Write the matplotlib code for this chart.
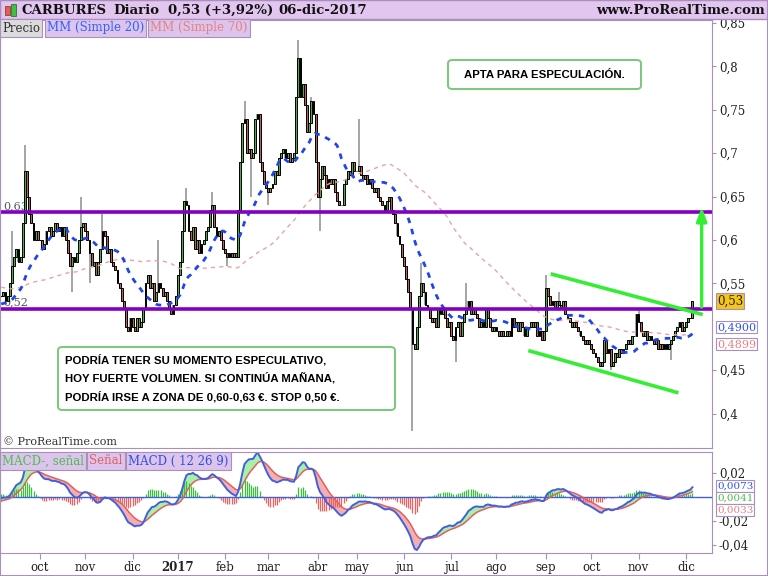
import matplotlib
matplotlib.use('Agg')
import matplotlib.pyplot as plt
from matplotlib.patches import Rectangle, FancyBboxPatch
import numpy as np
import pandas as pd

plt.rcParams['font.family'] = ['DejaVu Serif']

# closes before the visible window, only used to warm up the averages / MACD
hist_closes = [0.57, 0.565, 0.56, 0.57, 0.575, 0.565, 0.56, 0.555, 0.56, 0.565,
               0.57, 0.56, 0.555, 0.55, 0.56, 0.565, 0.56, 0.555, 0.56, 0.57,
               0.565, 0.56, 0.555, 0.55, 0.555, 0.56, 0.565, 0.56, 0.555, 0.55,
               0.545, 0.55, 0.555, 0.56, 0.555, 0.55, 0.545, 0.55, 0.545, 0.54,
               0.545, 0.54, 0.535, 0.54, 0.535, 0.53, 0.535, 0.53, 0.525,
               0.53, 0.525, 0.52, 0.525, 0.53, 0.525, 0.52, 0.515, 0.52, 0.525,
               0.53, 0.525, 0.52, 0.525, 0.53, 0.535, 0.53, 0.525, 0.53, 0.535]

# daily closes, one list per month (Sep-2016 .. Dec-2017)
sep16 = [0.535, 0.54, 0.53, 0.535, 0.55, 0.57, 0.58, 0.59, 0.575, 0.58, 0.62, 0.68, 0.65, 0.63, 0.62, 0.60, 0.61, 0.60]
oct16 = [0.60, 0.59, 0.595, 0.61, 0.615, 0.605, 0.61, 0.62, 0.61, 0.615, 0.605, 0.615, 0.60, 0.585, 0.57, 0.58, 0.575, 0.585, 0.60, 0.615, 0.62]
nov16 = [0.61, 0.60, 0.585, 0.57, 0.575, 0.56, 0.575, 0.59, 0.61, 0.605, 0.585, 0.59, 0.575, 0.57, 0.565, 0.55, 0.545, 0.53, 0.52, 0.50, 0.495, 0.51]
dec16 = [0.50, 0.495, 0.51, 0.50, 0.505, 0.52, 0.55, 0.56, 0.545, 0.55, 0.53, 0.54, 0.55, 0.545, 0.535, 0.54, 0.53, 0.52, 0.515, 0.525, 0.535]
jan17 = [0.56, 0.575, 0.61, 0.645, 0.64, 0.61, 0.60, 0.615, 0.59, 0.60, 0.585, 0.595, 0.60, 0.61, 0.615, 0.635, 0.64, 0.615, 0.605, 0.61, 0.60, 0.59]
feb17 = [0.585, 0.58, 0.585, 0.58, 0.585, 0.58, 0.635, 0.69, 0.735, 0.74, 0.70, 0.705, 0.695, 0.70, 0.74, 0.745, 0.69, 0.68, 0.665, 0.66]
mar17 = [0.655, 0.66, 0.665, 0.68, 0.675, 0.695, 0.70, 0.705, 0.695, 0.70, 0.69, 0.695, 0.70, 0.765, 0.81, 0.765, 0.78, 0.755, 0.725, 0.735, 0.76, 0.745, 0.69]
apr17 = [0.65, 0.67, 0.685, 0.675, 0.66, 0.67, 0.665, 0.67, 0.655, 0.645, 0.64, 0.64, 0.665, 0.67, 0.68, 0.675, 0.69, 0.68]
may17 = [0.68, 0.685, 0.675, 0.67, 0.675, 0.665, 0.67, 0.66, 0.655, 0.66, 0.65, 0.645, 0.64, 0.635, 0.645, 0.65, 0.635, 0.63, 0.62, 0.605, 0.595, 0.58]
jun17 = [0.57, 0.555, 0.54, 0.52, 0.48, 0.475, 0.50, 0.535, 0.55, 0.54, 0.525, 0.52, 0.51, 0.505, 0.51, 0.50, 0.52, 0.515, 0.52, 0.51, 0.50, 0.505]
jul17 = [0.49, 0.485, 0.50, 0.505, 0.49, 0.505, 0.515, 0.52, 0.53, 0.515, 0.52, 0.515, 0.51, 0.50, 0.505, 0.50, 0.52, 0.51, 0.50, 0.495, 0.50]
aug17 = [0.495, 0.49, 0.495, 0.49, 0.49, 0.495, 0.49, 0.51, 0.50, 0.505, 0.495, 0.505, 0.50, 0.49, 0.50, 0.50, 0.505, 0.50, 0.505, 0.49, 0.495, 0.485, 0.495]
sep17 = [0.545, 0.535, 0.525, 0.53, 0.52, 0.53, 0.525, 0.52, 0.53, 0.515, 0.51, 0.505, 0.50, 0.505, 0.50, 0.495, 0.49, 0.485, 0.48, 0.485, 0.48]
oct17 = [0.475, 0.47, 0.465, 0.46, 0.455, 0.46, 0.485, 0.47, 0.475, 0.455, 0.46, 0.47, 0.465, 0.475, 0.47, 0.475, 0.48, 0.485, 0.48, 0.49, 0.49, 0.515]
nov17 = [0.505, 0.495, 0.49, 0.495, 0.485, 0.49, 0.485, 0.48, 0.485, 0.475, 0.48, 0.475, 0.48, 0.475, 0.48, 0.485, 0.49, 0.495, 0.50, 0.505, 0.495, 0.50]
dec17 = [0.505, 0.51, 0.51, 0.53]

# wicks that stick out of the bodies (bar index -> price)
wick_highs = {5: 0.61, 11: 0.71, 37: 0.65, 47: 0.63, 73: 0.60, 86: 0.66, 98: 0.655,
              113: 0.76, 138: 0.83, 144: 0.765, 166: 0.74, 195: 0.573, 216: 0.55,
              253: 0.56, 259: 0.54, 296: 0.52}
wick_lows = {33: 0.54, 41: 0.55, 105: 0.57, 116: 0.65, 124: 0.64, 148: 0.61,
             191: 0.38, 211: 0.46, 283: 0.45, 311: 0.462}

holidays = ['2016-12-26', '2017-04-14', '2017-04-17', '2017-05-01']
month_labels = ['oct', 'nov', 'dic', '2017', 'feb', 'mar', 'abr', 'may', 'jun',
                'jul', 'ago', 'sep', 'oct', 'nov', 'dic']
price_ticks = [0.4, 0.45, 0.55, 0.6, 0.65, 0.7, 0.75, 0.8, 0.85]
resistance = 0.632
support = 0.5205
upper_channel = ([256, 325], [0.5605, 0.5147])
lower_channel = ([245.6, 313.7], [0.4721, 0.4245])
target_arrow = (325.3, 0.5228, 0.638)

dates = pd.bdate_range('2016-09-07', '2017-12-06')
dates = dates[~dates.isin(pd.to_datetime(holidays))]
closes = np.array(sep16 + oct16 + nov16 + dec16 + jan17 + feb17 + mar17 + apr17 +
                  may17 + jun17 + jul17 + aug17 + sep17 + oct17 + nov17 + dec17)
n = len(closes)
x = np.arange(n)

full = pd.Series(hist_closes + list(closes))
nh = len(hist_closes)
ma20 = full.rolling(20).mean().values[nh:]
ma70 = full.rolling(70, min_periods=1).mean().values[nh:]
ema12 = full.ewm(span=12, adjust=False).mean()
ema26 = full.ewm(span=26, adjust=False).mean()
macd_full = ema12 - ema26
signal = macd_full.ewm(span=9, adjust=False).mean().values[nh:]
macd = macd_full.values[nh:]
histo = macd - signal

opens = np.concatenate([[hist_closes[-1]], closes[:-1]])
highs = np.maximum(opens, closes)
lows = np.minimum(opens, closes)
for i, v in wick_highs.items():
    highs[i] = v
for i, v in wick_lows.items():
    lows[i] = v

W, H = 768, 576
def fx(px):
    return px / W
def fy(py):
    return 1 - py / H

fig = plt.figure(figsize=(7.68, 5.76), dpi=100)
ax = fig.add_axes([0, fy(448), fx(712), (448 - 20) / H])
ax2 = fig.add_axes([0, fy(553), fx(712), (553 - 452) / H])
frame = '#a890bc'

# ---- price panel
ax.vlines(x, lows, highs, color='#8c8c8c', lw=1.1, zorder=2)
up = closes >= opens
body_col = np.where(up, '#4cb03c', '#b5605a')
ax.bar(x, np.abs(closes - opens), bottom=np.minimum(opens, closes), width=0.85,
       color=body_col, edgecolor='black', linewidth=0.7, zorder=3)
ax.plot(x, ma70, color='#e8a4a4', lw=1.0, ls=(0, (3, 3)), zorder=4)
ax.plot(x, ma20, color='#2046e8', lw=2.0, ls=(0, (2, 2.2)), zorder=4)

ax.axhline(resistance, color='#8200c4', lw=2.6, zorder=5)
ax.axhline(support, color='#8200c4', lw=2.6, zorder=5)
ax.text(1, resistance + 0.004, '0,63', fontsize=8, color='#555555', zorder=1)
ax.text(1, support + 0.004, '0,52', fontsize=8, color='#555555', zorder=1)

ax.plot(*upper_channel, color='#33ee33', lw=2.6, zorder=6)
ax.plot(*lower_channel, color='#33ee33', lw=2.6, zorder=6)
ax.annotate('', xy=(target_arrow[0], target_arrow[2]), xytext=(target_arrow[0], target_arrow[1]),
            arrowprops=dict(arrowstyle='-|>,head_length=0.8,head_width=0.3', color='#33ee33',
                            lw=2.4, shrinkA=0, shrinkB=0), zorder=6)

ax.set_xlim(-0.58, 330.1)
ax.set_ylim(0.3604, 0.8535)
ax.set_xticks([])
ax.yaxis.tick_right()
ax.set_yticks(price_ticks)
ax.set_yticklabels([('%g' % v).replace('.', ',') for v in price_ticks])
ax.tick_params(axis='y', length=3, pad=2, labelsize=8.5, color=frame, labelcolor='#222222')
for s in ax.spines.values():
    s.set_color(frame)

# ---- MACD panel
pos = histo >= 0
ax2.vlines(x[pos], 0, histo[pos], color='#3cc03c', lw=0.9)
ax2.vlines(x[~pos], 0, histo[~pos], color='#f06060', lw=0.9)
ax2.fill_between(x, macd, signal, where=macd >= signal, interpolate=True, color='#a8f0a8', lw=0)
ax2.fill_between(x, macd, signal, where=macd < signal, interpolate=True, color='#f4b0b0', lw=0)
ax2.axhline(0, color='#4060e0', lw=1.0)
ax2.plot(x, signal, color='#e06060', lw=1.1)
ax2.plot(x, macd, color='#4060e0', lw=1.4)
ax2.set_xlim(-0.58, 330.1)
ax2.set_ylim(-0.0467, 0.0375)
ax2.yaxis.tick_right()
ax2.set_yticks([0.02, -0.02, -0.04])
ax2.set_yticklabels(['0,02', '-0,02', '-0,04'])
ax2.tick_params(axis='y', length=3, pad=2, labelsize=8.5, color=frame, labelcolor='#222222')
month_start = [i for i in range(1, n) if dates[i].month != dates[i - 1].month]
ax2.set_xticks(month_start)
ax2.set_xticklabels(month_labels)
ax2.tick_params(axis='x', length=4, pad=2, labelsize=8.5, color=frame, labelcolor='#222222')
ax2.get_xticklabels()[3].set_fontweight('bold')
for s in ax2.spines.values():
    s.set_color(frame)

# ---- header and legends
fig.patches.append(Rectangle((0, fy(19)), 1, 19 / H, transform=fig.transFigure,
                             facecolor='#e2c6f0', edgecolor=frame, lw=1, zorder=0))
fig.patches.append(Rectangle((fx(5), fy(15)), fx(5), 9 / H, transform=fig.transFigure,
                             facecolor='#e06050', edgecolor='#803030', lw=0.5))
fig.patches.append(Rectangle((fx(11), fy(16)), fx(5), 12 / H, transform=fig.transFigure,
                             facecolor='#40c040', edgecolor='#206020', lw=0.5))
hdr = dict(fontsize=9.5, fontweight='bold', color='#111111', va='center')
fig.text(fx(22), fy(10), 'CARBURES', **hdr)
fig.text(fx(113), fy(10), 'Diario', **hdr)
fig.text(fx(168), fy(10), '0,53 (+3,92%)', **hdr)
fig.text(fx(278), fy(10), '06-dic-2017', **hdr)
fig.text(fx(765), fy(10), 'www.ProRealTime.com', ha='right', **hdr)

def tag(px, py, s, col, bg):
    fig.text(fx(px), fy(py), s, fontsize=8.5, color=col, va='center',
             bbox=dict(boxstyle='square,pad=0.18', facecolor=bg, edgecolor=frame, lw=0.8))

tag(2, 28, 'Precio', '#333333', '#dcdcdc')
tag(47, 28, 'MM (Simple 20)', '#3060ff', '#dcc4ec')
tag(150, 28, 'MM (Simple 70)', '#e88080', '#dcc4ec')
tag(2, 461, 'MACD-, señal', '#48c048', '#dcc4ec')
tag(89, 461, 'Señal', '#e06060', '#dcc4ec')
tag(128, 461, 'MACD ( 12 26 9)', '#3050e0', '#dcc4ec')
fig.text(fx(3), fy(442), '© ProRealTime.com', fontsize=8, color='#333333', va='center')

def price_tag(py, s, col, bg, fs=8.5):
    fig.text(fx(717), fy(py), s, fontsize=fs, color=col, va='center', zorder=10,
             bbox=dict(boxstyle='square,pad=0.1', facecolor=bg, edgecolor=frame, lw=0.8))

price_tag(301, '0,53', '#222222', '#f5c518')
price_tag(327, '0,4900', '#3050ff', 'white', 8)
price_tag(344, '0,4899', '#e88080', 'white', 8)
price_tag(486, '0,0073', '#3050ff', 'white', 7.5)
price_tag(498, '0,0041', '#48c048', 'white', 7.5)
price_tag(510, '0,0033', '#e88080', 'white', 7.5)

# ---- comment boxes
def note(x0, y0, x1, y1):
    fig.patches.append(FancyBboxPatch((fx(x0), fy(y1)), fx(x1 - x0), (y1 - y0) / H,
                                      boxstyle='round,pad=0,rounding_size=0.006',
                                      transform=fig.transFigure, facecolor='white',
                                      edgecolor='#78c878', lw=1.4, zorder=5))

note(448, 60, 641, 89)
fig.text(fx(544), fy(75), 'APTA PARA ESPECULACIÓN.', family='Liberation Sans', fontsize=8.2,
         fontweight='bold', ha='center', va='center', zorder=6)
note(58, 347, 395, 410)
fig.text(fx(65), fy(378), 'PODRÍA TENER SU MOMENTO ESPECULATIVO,\nHOY FUERTE VOLUMEN. SI CONTINÚA MAÑANA,\n'
         'PODRÍA IRSE A ZONA DE 0,60-0,63 €. STOP 0,50 €.', family='Liberation Sans', fontsize=8.2,
         fontweight='bold', ha='left', va='center', linespacing=1.75, zorder=6)

fig.patches.append(Rectangle((0, 0), 1, 1, transform=fig.transFigure, fill=False,
                             edgecolor=frame, lw=1.5))
fig.savefig('out.png', dpi=100)
